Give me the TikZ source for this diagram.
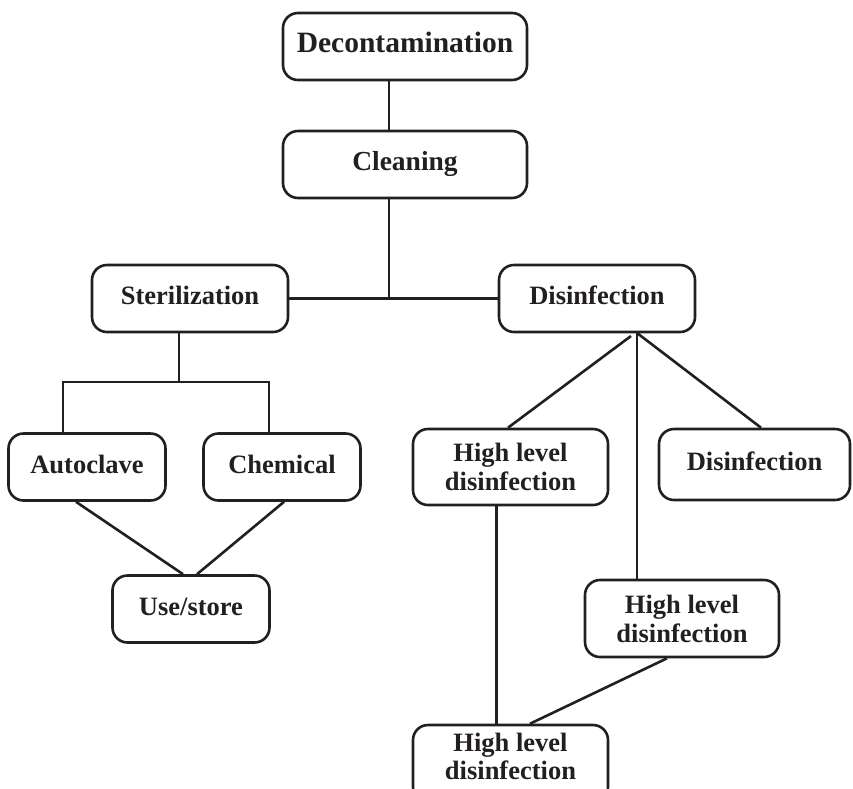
\documentclass[tikz,border=0pt]{standalone}
\usepackage{fontspec}
\setmainfont{Liberation Serif}
\definecolor{ink}{HTML}{231F20}
\begin{document}
\begin{tikzpicture}[x=1pt,y=1pt,
  box/.style={draw=ink, text=ink, line width=2.6pt, rounded corners=15pt, align=center,
    font=\bfseries\fontsize{26.5}{29}\selectfont, inner sep=0pt},
  one/.style={text height=19pt, text depth=7pt},
  lnk/.style={draw=ink, line width=2.6pt},
  lbl/.style={text=ink, align=center, font=\bfseries\fontsize{26.5}{28}\selectfont, inner sep=0pt}]
\useasboundingbox (0,0) rectangle (853,-788);
\clip (0,0) rectangle (853,-788);
% nodes
\node[box, one, minimum width=244pt, minimum height=67pt, font=\bfseries\fontsize{29.5}{32}\selectfont] (dec) at (405,-46.5) {Decontamination};
\node[box, one, minimum width=244pt, minimum height=67pt, font=\bfseries\fontsize{27.5}{30}\selectfont] (cln) at (405,-164.5) {Cleaning};
\node[box, one, minimum width=196pt, minimum height=67pt] (ster) at (190,-298.5) {Sterilization};
\node[box, one, minimum width=196pt, minimum height=67pt] (dis) at (597,-298.5) {Disinfection};
\node[box, one, minimum width=157pt, minimum height=67pt] (auto) at (87,-467) {Autoclave};
\node[box, one, minimum width=157pt, minimum height=67pt] (chem) at (282,-467) {Chemical};
\node[box, one, minimum width=157pt, minimum height=67pt] (use) at (191,-609) {Use/store};
\node[box, minimum width=195pt, minimum height=76pt] (hlda) at (510.5,-467) {High level\\disinfection};
\node[box, one, minimum width=191pt, minimum height=71pt] (dis2) at (754.5,-464.5) {Disinfection};
\node[box, minimum width=194pt, minimum height=77pt] (hldb) at (682,-618.5) {High level\\disinfection};
\node[box, minimum width=195pt, minimum height=77pt] (hldc) at (510.5,-763.5) {};
\node[lbl] (hldctext) at (510.5,-756) {High level\\disinfection};
% junction points
\coordinate (j1) at (389,-298);
\coordinate (j2) at (179,-382);
\coordinate (ja) at (63,-382);
\coordinate (jc) at (269,-382);
\coordinate (jd) at (637,-333);
% connectors
\draw[lnk] (dec.south -| j1) -- (cln.north -| j1);
\draw[lnk] (cln.south -| j1) -- (j1);
\draw[lnk] (ster.east) -- (dis.west);
\draw[lnk] (ster.south -| j2) -- (j2);
\draw[lnk] (auto.north -| ja) -- (ja) -- (jc) -- (chem.north -| jc);
\draw[lnk] ([xshift=-11pt]auto.south) -- ([xshift=-8pt]use.north);
\draw[lnk] ([xshift=2pt]chem.south) -- ([xshift=6pt]use.north);
\draw[lnk] ([xshift=-6pt,yshift=-3pt]jd) -- ([xshift=-2.5pt]hlda.north);
\draw[lnk] (jd) -- (hldb.north -| jd);
\draw[lnk] (jd) -- ([xshift=6.5pt]dis2.north);
\draw[lnk] ([xshift=-14pt]hlda.south) -- ([xshift=-14pt]hldc.north);
\draw[lnk] ([xshift=-15pt]hldb.south) -- ([xshift=19.5pt]hldc.north);
\end{tikzpicture}
\end{document}
